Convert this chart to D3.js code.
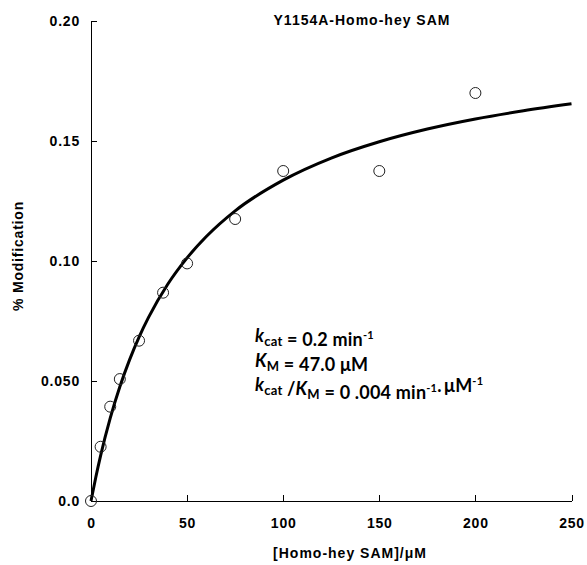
<!DOCTYPE html>
<html>
<head>
<meta charset="utf-8">
<script src="https://cdn.jsdelivr.net/npm/d3@7"></script>
<style>
  body { margin: 0; background: #fff; }
  .axis text { font-family: "Liberation Sans", Arial, sans-serif; font-weight: bold; font-size: 14px; letter-spacing: 0.8px; fill: #000; }
  .axis path, .axis line { stroke: #000; stroke-width: 1px; shape-rendering: crispEdges; }
</style>
</head>
<body>
<svg id="chart" width="587" height="565"></svg>
<script>
/*
 * Michaelis-Menten plot, Y1154A with Homo-hey SAM
 */

// measured points
var substrate = [0, 5, 10, 15, 25, 37.5, 50, 75, 100, 150, 200];
var modification = [0, 0.0226, 0.0393, 0.0508, 0.0668, 0.0868, 0.099, 0.1175, 0.1375, 0.1375, 0.170];

// fitted curve
var fitX = [0, 2.5, 5, 10, 15, 20, 25, 30, 40, 50, 60, 75, 100, 125, 150, 175, 200, 225, 250];
var fitY = [0, 0.0099, 0.0189, 0.0345, 0.0476, 0.0587, 0.0683, 0.0766, 0.0904, 0.1013, 0.1102, 0.1209,
            0.1337, 0.1429, 0.1497, 0.1550, 0.1592, 0.1626, 0.1655];

var xTicks = [0, 50, 100, 150, 200, 250];
var yTicks = [0, 0.05, 0.10, 0.15, 0.20];
var yTickLabels = ["0.0", "0.050", "0.10", "0.15", "0.20"];

var svg = d3.select("#chart");

var x = d3.scaleLinear().domain([0, 250]).range([91, 571.5]);
var y = d3.scaleLinear().domain([0, 0.2]).range([501, 21]);

//-------------------------------
// axes (ticks point inward)
svg.append("g")
    .attr("class", "axis xAxis")
    .attr("transform", "translate(0," + y(0) + ")")
    .call(d3.axisBottom(x)
      .tickValues(xTicks)
      .tickSizeInner(-6)
      .tickSizeOuter(0)
      .tickPadding(17)
      .tickFormat(d3.format("d")));

svg.append("g")
    .attr("class", "axis yAxis")
    .attr("transform", "translate(" + x(0) + ",0)")
    .call(d3.axisLeft(y)
      .tickValues(yTicks)
      .tickSizeInner(-6)
      .tickSizeOuter(0)
      .tickPadding(11)
      .tickFormat(function(d, i) { return yTickLabels[i]; }));

//-------------------------------
// fitted curve
var fit = fitX.map(function(d, i) { return { s: d, v: fitY[i] }; });

svg.append("path")
    .datum(fit)
    .attr("fill", "none")
    .attr("stroke", "#000")
    .attr("stroke-width", 3)
    .attr("d", d3.line()
      .x(function(d) { return x(d.s); })
      .y(function(d) { return y(d.v); })
      .curve(d3.curveMonotoneX));

// data points
svg.selectAll(".pt")
    .data(substrate)
    .enter().append("circle")
      .attr("class", "pt")
      .attr("cx", function(d) { return x(d); })
      .attr("cy", function(d, i) { return y(modification[i]); })
      .attr("r", 5.5)
      .attr("fill", "none")
      .attr("stroke", "#222")
      .attr("stroke-width", 1);

//-------------------------------
// titles
function label(tx, ty, size, spacing, txt) {
  return svg.append("text")
      .attr("transform", "translate(" + tx + "," + ty + ")")
      .attr("text-anchor", "middle")
      .style("font-family", "'Liberation Sans', Arial, sans-serif")
      .style("font-weight", "bold")
      .style("font-size", size + "px")
      .style("letter-spacing", spacing + "px")
      .text(txt);
}

label(362, 25, 14, 1, "Y1154A-Homo-hey SAM");
label(350, 558, 14, 1, "[Homo-hey SAM]/\u03bcM");
label(23, 256, 14, 0.8, "% Modification")
    .attr("transform", "translate(23,256)rotate(-90)");

//-------------------------------
// kinetic constants
var note = svg.append("g")
    .style("font-family", "Lato, 'Open Sans', sans-serif")
    .style("font-weight", "bold")
    .style("font-size", "18px")
    .style("letter-spacing", "0.2px");

function sub(t, s) {
  t.append("tspan").attr("font-size", "13px").attr("dy", 4).text(s);
  t.append("tspan").attr("dy", -4).text("");
}
function sup(t, s) {
  t.append("tspan").attr("font-size", "11px").attr("dy", -7).text(s);
  t.append("tspan").attr("dy", 7).text("");
}

var l1 = note.append("text").attr("x", 255).attr("y", 342);
l1.append("tspan").style("font-style", "italic").text("k");
sub(l1, "cat");
l1.append("tspan").text(" = 0.2 min");
sup(l1, "-1");

var l2 = note.append("text").attr("x", 255).attr("y", 367);
l2.append("tspan").style("font-style", "italic").text("K");
sub(l2, "M");
l2.append("tspan").text(" =  47.0 \u03bcM");

var l3 = note.append("text").attr("x", 255).attr("y", 391);
l3.append("tspan").style("font-style", "italic").text("k");
sub(l3, "cat");
l3.append("tspan").text(" /");
l3.append("tspan").style("font-style", "italic").text("K");
sub(l3, "M");
l3.append("tspan").text(" = 0 .004 min");
sup(l3, "-1");
l3.append("tspan").text(".\u2009\u03bcM");
sup(l3, "-1");
</script>
</body>
</html>
